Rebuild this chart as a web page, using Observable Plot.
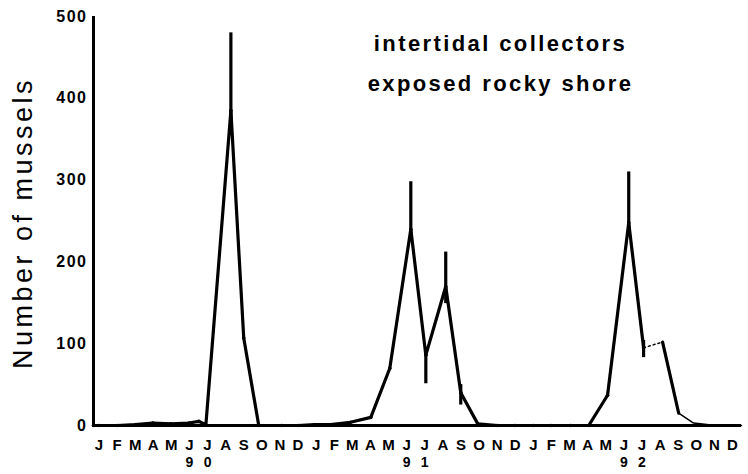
<!DOCTYPE html>
<html><head><meta charset="utf-8">
<script src="https://cdn.jsdelivr.net/npm/d3@7"></script>
<script src="https://cdn.jsdelivr.net/npm/@observablehq/plot@0.6"></script>
<style>
body{margin:0;background:#fff;}
#chart svg{display:block;background:#fff;}
</style></head><body><div id="chart"></div>
<script>
// ---- data ----
const monthInitials = ["J","F","M","A","M","J","J","A","S","O","N","D"];
const yearDigits = ["9","0","9","1","9","2"];
const yearDigitMonth = [5, 6, 17, 18, 29, 30];
const yTicks = [0, 100, 200, 300, 400, 500];
const titleLines = ["intertidal collectors", "exposed rocky shore"];
const yLabel = "Number of mussels";

// month index: 0 = Jan 1990 ... 35 = Dec 1992
const solidMonth = [-0.3, 0.0, 1.0, 2.0, 2.98, 3.98, 4.97, 5.52, 5.91, 7.29, 8.0, 8.83, 10.1, 11.0, 11.9, 12.8,
  13.9, 15.02, 16.07, 17.23, 18.06, 19.16, 19.99, 20.93, 22.03, 23.0, 24.0, 24.96, 26.06, 27.06, 28.1, 29.27, 30.09];
const solidCount = [0, 0, 0, 1, 3, 2, 3, 5, 1, 385, 107, 0, 0, 0, 1, 1,
  4, 10, 70, 240, 86, 170, 40, 2, 0, 0, 0, 0, 0, 0, 37, 248, 95];
const lateMonth = [31.14, 32.03];
const lateCount = [102, 15];
const gapMonth = [30.09, 31.14];
const gapCount = [95, 102];
const tailMonth = [32.03, 32.85, 34.07, 35.0, 35.5];
const tailCount = [15, 3, 0, 0, 0];
const errMonth = [7.29, 17.23, 18.06, 19.16, 19.99, 29.27, 30.09];
const errLow  = [355, 225, 51, 149, 25, 235, 83];
const errHigh = [480, 298, 95, 212, 50, 310, 104];

// ---- tables ----
const toRows = (xs, ys) => xs.map((x, i) => ({month: x, count: ys[i]}));
const solid = toRows(solidMonth, solidCount);
const late = toRows(lateMonth, lateCount);
const gap = toRows(gapMonth, gapCount);
const tail = toRows(tailMonth, tailCount);
const errs = errMonth.map((m, i) => ({month: m, low: errLow[i], high: errHigh[i]}));
const tickLabels = d3.range(36).map(i => monthInitials[i % 12]);
const yearRows = yearDigitMonth.map((m, i) => ({month: m, label: yearDigits[i]}));

const FONT = "Liberation Sans, Arial, Helvetica, sans-serif";

const chart = Plot.plot({
  width: 748,
  height: 474,
  marginLeft: 93,
  marginRight: 7,
  marginTop: 16,
  marginBottom: 49,
  style: {fontFamily: FONT, color: "#000", background: "#fff"},
  x: {domain: [-0.3, 35.5]},
  y: {domain: [0, 500]},
  marks: [
    Plot.axisY({ticks: yTicks, tickSize: 0, tickPadding: 6, fontSize: 16, fontWeight: "bold", label: null}),
    Plot.axisX({ticks: d3.range(36), tickFormat: i => tickLabels[i], tickSize: 0, tickPadding: 14,
      fontSize: 15, fontWeight: "bold", label: null}),
    Plot.ruleY([0], {stroke: "#000", strokeWidth: 3}),
    Plot.ruleX([-0.3], {y1: 0, y2: 500, stroke: "#000", strokeWidth: 3}),
    Plot.line(solid, {x: "month", y: "count", stroke: "#000", strokeWidth: 3.2, strokeLinejoin: "round"}),
    Plot.line(late, {x: "month", y: "count", stroke: "#000", strokeWidth: 3.2}),
    Plot.line(gap, {x: "month", y: "count", stroke: "#000", strokeWidth: 1.5, strokeDasharray: "2,3"}),
    Plot.line(tail, {x: "month", y: "count", stroke: "#000", strokeWidth: 1.5}),
    Plot.ruleX(errs, {x: "month", y1: "low", y2: "high", stroke: "#000", strokeWidth: 3.2}),
    Plot.dot(solid, {x: "month", y: "count", r: 1.8, fill: "#000"}),
    Plot.text(yearRows, {x: "month", y: 0, text: "label", dy: 32, lineAnchor: "top",
      fontSize: 14, fontWeight: "bold"}),
    Plot.text([titleLines.join("\n")], {frameAnchor: "top-left", dx: 407, dy: 6, lineAnchor: "top",
      textAnchor: "middle", lineHeight: 1.82, fontSize: 22, fontWeight: "bold"}),
    Plot.text([yLabel], {frameAnchor: "left", dx: -70, dy: 2, rotate: -90, textAnchor: "middle",
      lineAnchor: "middle", fontSize: 27})
  ]
});

// letter spacing to mimic the extended typeface of the original
const texts = chart.querySelectorAll('g[aria-label="text"]');
if (texts[1]) texts[1].setAttribute("letter-spacing", "2.4");
if (texts[2]) texts[2].setAttribute("letter-spacing", "3.5");
chart.querySelectorAll('g[aria-label="y-axis tick label"]').forEach(g => g.setAttribute("letter-spacing", "1.5"));

document.getElementById("chart").appendChild(chart);
</script></body></html>
